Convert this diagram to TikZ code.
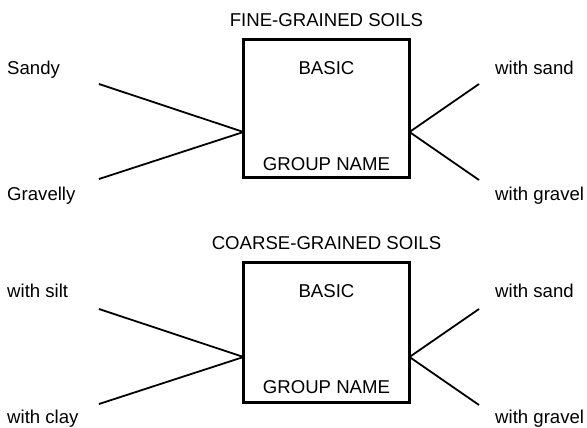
\documentclass[tikz,border=0pt]{standalone}
\usepackage{fontspec}
\setmainfont{Liberation Sans}
\usepackage{tikz}

\begin{document}
\begin{tikzpicture}[x=1pt,y=-1pt,
        soilbox/.style={draw,line width=3pt,minimum width=166pt,inner sep=0},
        txt/.style={font=\fontsize{18.6}{22}\selectfont,inner sep=0,anchor=base},
        side/.style={txt,anchor=base west},
        branch/.style={-,line width=1.8pt}]
        \useasboundingbox (0,0) rectangle (587,428);

        % fine-grained soils
        \node[txt] (finetitle) at (326.5,27){FINE-GRAINED SOILS};
        \node[soilbox,minimum height=138pt] (fine) at (326.5,108.5){};
        \node[txt] (finebasic) at (326.5,75){BASIC};
        \node[txt] (finegroup) at (326.5,170){GROUP NAME};

        \node[side] (sandy) at (7,75){Sandy};
        \node[side] (gravelly) at (7,200){Gravelly};
        \node[side] (finesand) at (495,75){with sand};
        \node[side] (finegravel) at (495,200){with gravel};

        \coordinate (finel) at (243.5,132);
        \coordinate (finer) at (409.5,132);
        \coordinate (1) at (99,84);
        \coordinate (2) at (99,179);
        \coordinate (3) at (479,84);
        \coordinate (4) at (479,180);

        \path[branch] (1) edge (finel);
        \path[branch] (2) edge (finel);
        \path[branch] (finer) edge (3);
        \path[branch] (finer) edge (4);

        % coarse-grained soils
        \node[txt] (coarsetitle) at (326.5,249){COARSE-GRAINED SOILS};
        \node[soilbox,minimum height=140.5pt] (coarse) at (326.5,332.25){};
        \node[txt] (coarsebasic) at (326.5,297){BASIC};
        \node[txt] (coarsegroup) at (326.5,393){GROUP NAME};

        \node[side] (silt) at (7,297){with silt};
        \node[side] (clay) at (7,423){with clay};
        \node[side] (coarsesand) at (495,297){with sand};
        \node[side] (coarsegravel) at (495,423){with gravel};

        \coordinate (coarsel) at (243.5,357);
        \coordinate (coarser) at (409.5,357);
        \coordinate (5) at (99,309);
        \coordinate (6) at (99,404);
        \coordinate (7) at (479,309);
        \coordinate (8) at (479,405);

        \path[branch] (5) edge (coarsel);
        \path[branch] (6) edge (coarsel);
        \path[branch] (coarser) edge (7);
        \path[branch] (coarser) edge (8);

    \end{tikzpicture}
\end{document}
